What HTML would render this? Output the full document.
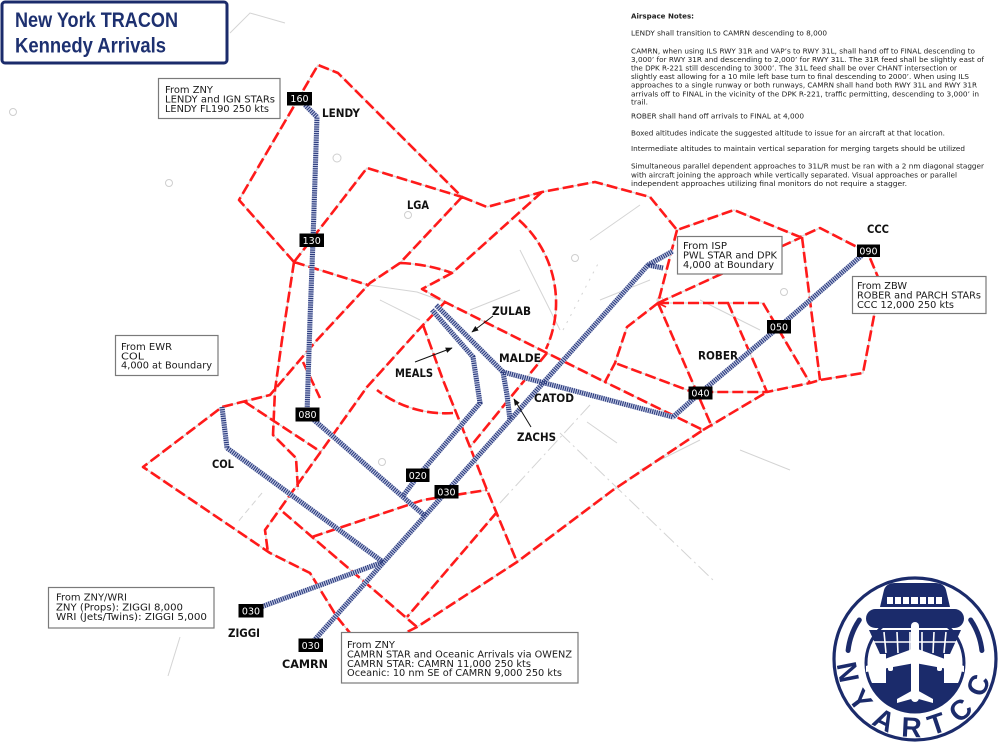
<!DOCTYPE html>
<html><head><meta charset="utf-8"><style>
html,body{margin:0;padding:0;background:#fff;}
svg{display:block;}
.bx{fill:#fff;stroke:#7a7a7a;stroke-width:1.2;}
.bt{font-family:"DejaVu Sans","Liberation Sans",sans-serif;font-size:10px;fill:#1a1a1a;}
.nt{font-family:"DejaVu Sans","Liberation Sans",sans-serif;font-size:7px;fill:#222;}
.lb{font-family:"DejaVu Sans","Liberation Sans",sans-serif;font-size:11.5px;font-weight:bold;fill:#111;}
.al{font-family:"DejaVu Sans","Liberation Sans",sans-serif;font-size:9.5px;fill:#fff;text-anchor:middle;}
</style></head><body>
<svg width="1000" height="751" viewBox="0 0 1000 751" xmlns="http://www.w3.org/2000/svg">
<defs>
<path id="red" d="M294,262 L239,200 L318,65 L338,73 L462,197
M294,262 L367,168 L462,197
M462,197 L487,207 L542,192 L595,182 L650,197 L677,230 L734,210 L800,237 L820,228 L857,247 L870,258 L880,282 L874,316 L863,373 L820,380 L810,383 L767,392 L713,392 L690,391 L615,363
M677,230 L658,303 L627,327 L615,363 L605,382 L703,430 L613,490 L517,562 L417,627 L405,633
M658,303 L763,303 L810,383
M728,303 L767,392
M658,303 L712,427
M802,237 L820,380
M658,303 L802,237
M703,430 L767,392
M462,197 L400,263 L370,283 L317,340 L270,395 L222,407 L143,467 L270,553 L310,573 L337,617 L350,633
M294,262 L368,285
M294,262 L282,340 L275,390 L273,435 L296,458 L298,490
M445,302 L423,325 L367,387 L265,530 L268,553
M245,402 L321,452
M303,362 L320,398
M542,192 L452,273 L422,289 L445,302 L547,353 L605,382
M400,263 Q427,264 452,273
M519,220 A111,111 0 0 1 546,349
M453,413 A111,111 0 0 1 377,390
M423,325 L443,380 L470,447 L487,490 L517,562
M547,353 L510,398 L470,447
M283,512 L417,627
M312,537 L423,500 L487,490
M497,512 L407,617"/>
<path id="blue" d="M305,105 L317,117 L313,240 L310,320 L307,414 L425,516
M432,310 L473,357 L480,403 L418,476 L403,496
M222,407 L227,448 L383,562
M250,611 L383,562
M663,268 L648,265 L673,251
M648,265 L310,645
M503,372 L507,395 L510,420
M868,250 L779,327 L700,393 L673,417 L503,372 L436,305"/>
<marker id="ah" viewBox="0 0 10 10" refX="9" refY="5" markerWidth="7" markerHeight="7" orient="auto"><path d="M0,1 L10,5 L0,9 Z" fill="#111"/></marker>
<clipPath id="inner"><circle cx="915" cy="663" r="49"/></clipPath>
<path id="lp" d="M837,659 A78,78 0 0 0 993,659"/>
</defs>

<rect width="1000" height="751" fill="#fff"/>

<!-- light grey background map -->
<g fill="none" stroke="#d4d4d4" stroke-width="1">
<path d="M230,33 L250,13 L285,23"/>
<path d="M368,285 L417,292 L445,302"/>
<path d="M180,637 L168,676"/>
<path d="M560,433 L713,580" stroke-dasharray="14 4 2 4"/>
<path d="M587,422 L617,443"/>
<path d="M590,405 L500,503" stroke-dasharray="14 4 2 4"/>
<path d="M590,240 L640,205"/>
<path d="M563,330 L600,260" stroke-dasharray="2 6"/>
<path d="M600,300 L650,280"/>
<path d="M520,250 L560,330"/>
<path d="M700,300 L760,330"/>
<path d="M262,493 L237,523" stroke-dasharray="6 4"/>
<path d="M470,310 L520,290"/>
<path d="M640,470 L700,440"/>
<path d="M740,450 L790,470"/>
<path d="M380,300 L420,320"/>
</g>
<g fill="none" stroke="#cfcfcf" stroke-width="1">
<circle cx="13" cy="112" r="3.5"/><circle cx="169" cy="183" r="3.5"/><circle cx="408" cy="215" r="3.5"/>
<circle cx="575" cy="258" r="3.5"/><circle cx="337" cy="158" r="4"/><circle cx="382" cy="462" r="3.5"/>
<circle cx="660" cy="300" r="3"/><circle cx="784" cy="292" r="3.5"/>
</g>

<!-- red sector boundaries -->
<use href="#red" fill="none" stroke="#d8d8d8" stroke-width="1.3"/>
<use href="#red" fill="none" stroke="#ff1a1a" stroke-width="2.6" stroke-dasharray="11 4" stroke-linejoin="round"/>
<path d="M666,299 L658,303 L666,307" fill="none" stroke="#ff1a1a" stroke-width="1.8"/>

<!-- blue routes -->
<use href="#blue" fill="none" stroke="#c3cae4" stroke-width="5.2" stroke-linejoin="round"/>
<use href="#blue" fill="none" stroke="#2a3a7c" stroke-width="5" stroke-dasharray="1.1 1.1"/>

<!-- pointer arrows -->
<g stroke="#111" stroke-width="1" fill="none">
<path d="M493,316 L472,332" marker-end="url(#ah)"/>
<path d="M415,362 L452,348" marker-end="url(#ah)"/>
<path d="M531,427 L514,399" marker-end="url(#ah)"/>
</g>

<!-- title -->
<rect x="2" y="2" width="225" height="61" rx="3" fill="#fff" stroke="#1b2b6b" stroke-width="3"/>
<text x="15" y="27" font-family="Liberation Sans, sans-serif" font-weight="bold" font-size="21" fill="#1d3070" textLength="163" lengthAdjust="spacingAndGlyphs">New York TRACON</text>
<text x="15" y="52.5" font-family="Liberation Sans, sans-serif" font-weight="bold" font-size="21" fill="#1d3070" textLength="151" lengthAdjust="spacingAndGlyphs">Kennedy Arrivals</text>

<!-- notes -->
<g class="nt">
<text x="631" y="18.3" font-weight="bold" textLength="63" lengthAdjust="spacingAndGlyphs">Airspace Notes:</text>
<text x="631" y="35.6" textLength="196" lengthAdjust="spacingAndGlyphs">LENDY shall transition to CAMRN descending to 8,000</text>
<text x="631" y="53.3" textLength="344" lengthAdjust="spacingAndGlyphs">CAMRN, when using ILS RWY 31R and VAP’s to RWY 31L, shall hand off to FINAL descending to</text>
<text x="631" y="61.9" textLength="353" lengthAdjust="spacingAndGlyphs">3,000’ for RWY 31R and descending to 2,000’ for RWY 31L. The 31R feed shall be slightly east of</text>
<text x="631" y="70.5" textLength="326" lengthAdjust="spacingAndGlyphs">the DPK R-221 still descending to 3000’. The 31L feed shall be over CHANT intersection or</text>
<text x="631" y="79.1" textLength="338" lengthAdjust="spacingAndGlyphs">slightly east allowing for a 10 mile left base turn to final descending to 2000’. When using ILS</text>
<text x="631" y="87.7" textLength="346" lengthAdjust="spacingAndGlyphs">approaches to a single runway or both runways, CAMRN shall hand both RWY 31L and RWY 31R</text>
<text x="631" y="96.3" textLength="348" lengthAdjust="spacingAndGlyphs">arrivals off to FINAL in the vicinity of the DPK R-221, traffic permitting, descending to 3,000’ in</text>
<text x="631" y="104.3" textLength="17" lengthAdjust="spacingAndGlyphs">trail.</text>
<text x="631" y="118.6" textLength="173" lengthAdjust="spacingAndGlyphs">ROBER shall hand off arrivals to FINAL at 4,000</text>
<text x="631" y="135.3" textLength="314" lengthAdjust="spacingAndGlyphs">Boxed altitudes indicate the suggested altitude to issue for an aircraft at that location.</text>
<text x="631" y="150.9" textLength="334" lengthAdjust="spacingAndGlyphs">Intermediate altitudes to maintain vertical separation for merging targets should be utilized</text>
<text x="631" y="168.6" textLength="353" lengthAdjust="spacingAndGlyphs">Simultaneous parallel dependent approaches to 31L/R must be ran with a 2 nm diagonal stagger</text>
<text x="631" y="177.4" textLength="326" lengthAdjust="spacingAndGlyphs">with aircraft joining the approach while vertically separated.  Visual approaches or parallel</text>
<text x="631" y="185.9" textLength="276" lengthAdjust="spacingAndGlyphs">independent approaches utilizing final monitors do not require a stagger.</text>
</g>

<!-- info boxes -->
<rect class="bx" x="158.5" y="78.5" width="121.5" height="40"/>
<g class="bt">
<text x="165" y="93" textLength="48" lengthAdjust="spacingAndGlyphs">From ZNY</text>
<text x="165" y="102.5" textLength="110" lengthAdjust="spacingAndGlyphs">LENDY and IGN STARs</text>
<text x="165" y="112" textLength="104" lengthAdjust="spacingAndGlyphs">LENDY FL190 250 kts</text>
</g>
<rect class="bx" x="115.5" y="335.5" width="102.5" height="40"/>
<g class="bt">
<text x="121" y="350" textLength="51" lengthAdjust="spacingAndGlyphs">From EWR</text>
<text x="121" y="359.3" textLength="23" lengthAdjust="spacingAndGlyphs">COL</text>
<text x="121" y="368.5" textLength="91" lengthAdjust="spacingAndGlyphs">4,000 at Boundary</text>
</g>
<rect class="bx" x="677.5" y="236.5" width="104.5" height="37.5"/>
<g class="bt">
<text x="683" y="249" textLength="44" lengthAdjust="spacingAndGlyphs">From ISP</text>
<text x="683" y="258.5" textLength="94" lengthAdjust="spacingAndGlyphs">PWL STAR and DPK</text>
<text x="683" y="268" textLength="91" lengthAdjust="spacingAndGlyphs">4,000 at Boundary</text>
</g>
<rect class="bx" x="852.5" y="276.5" width="133.5" height="37"/>
<g class="bt">
<text x="857" y="289" textLength="50" lengthAdjust="spacingAndGlyphs">From ZBW</text>
<text x="857" y="298.5" textLength="124" lengthAdjust="spacingAndGlyphs">ROBER and PARCH STARs</text>
<text x="857" y="308" textLength="97" lengthAdjust="spacingAndGlyphs">CCC 12,000 250 kts</text>
</g>
<rect class="bx" x="48.5" y="587.5" width="165.5" height="40.5"/>
<g class="bt">
<text x="56" y="600.5" textLength="71" lengthAdjust="spacingAndGlyphs">From ZNY/WRI</text>
<text x="56" y="610.5" textLength="127" lengthAdjust="spacingAndGlyphs">ZNY (Props): ZIGGI 8,000</text>
<text x="56" y="620" textLength="151" lengthAdjust="spacingAndGlyphs">WRI (Jets/Twins): ZIGGI 5,000</text>
</g>
<rect class="bx" x="341.5" y="632.5" width="236.5" height="50.5"/>
<g class="bt">
<text x="347" y="648" textLength="48" lengthAdjust="spacingAndGlyphs">From ZNY</text>
<text x="347" y="657.5" textLength="225" lengthAdjust="spacingAndGlyphs">CAMRN STAR and Oceanic Arrivals via OWENZ</text>
<text x="347" y="666.8" textLength="184" lengthAdjust="spacingAndGlyphs">CAMRN STAR: CAMRN 11,000 250 kts</text>
<text x="347" y="676" textLength="215" lengthAdjust="spacingAndGlyphs">Oceanic: 10 nm SE of CAMRN 9,000 250 kts</text>
</g>

<!-- altitude boxes -->
<g fill="#000">
<rect x="287" y="92" width="25" height="13.5"/>
<rect x="299.5" y="233.5" width="24.5" height="13.5"/>
<rect x="295.5" y="407.5" width="24" height="14"/>
<rect x="406" y="468.5" width="23.5" height="13.5"/>
<rect x="434.5" y="485" width="24" height="13.5"/>
<rect x="688.5" y="386.5" width="24" height="13"/>
<rect x="767" y="320" width="24" height="13.5"/>
<rect x="857" y="244.5" width="23" height="12.5"/>
<rect x="238.5" y="604" width="25" height="13.5"/>
<rect x="298.5" y="638.5" width="24.5" height="13.5"/>
</g>
<g class="al">
<text x="299.5" y="102.2">160</text>
<text x="311.7" y="243.8">130</text>
<text x="307.5" y="418">080</text>
<text x="417.8" y="478.8">020</text>
<text x="446.5" y="495.3">030</text>
<text x="700.5" y="396.6">040</text>
<text x="779" y="330.3">050</text>
<text x="868.5" y="254.3">090</text>
<text x="251" y="614.3">030</text>
<text x="310.7" y="648.8">030</text>
</g>

<!-- fix labels -->
<g class="lb">
<text x="322" y="117" textLength="38" lengthAdjust="spacingAndGlyphs">LENDY</text>
<text x="407" y="209" textLength="22" lengthAdjust="spacingAndGlyphs">LGA</text>
<text x="492" y="315" textLength="39" lengthAdjust="spacingAndGlyphs">ZULAB</text>
<text x="395" y="377" textLength="38" lengthAdjust="spacingAndGlyphs">MEALS</text>
<text x="499" y="362" textLength="42" lengthAdjust="spacingAndGlyphs">MALDE</text>
<text x="534" y="402" textLength="40" lengthAdjust="spacingAndGlyphs">CATOD</text>
<text x="517" y="441" textLength="39" lengthAdjust="spacingAndGlyphs">ZACHS</text>
<text x="698" y="359.5" textLength="40" lengthAdjust="spacingAndGlyphs">ROBER</text>
<text x="867" y="233" textLength="22" lengthAdjust="spacingAndGlyphs">CCC</text>
<text x="212" y="468" textLength="22" lengthAdjust="spacingAndGlyphs">COL</text>
<text x="228" y="637" textLength="32" lengthAdjust="spacingAndGlyphs">ZIGGI</text>
<text x="282" y="668" textLength="46" lengthAdjust="spacingAndGlyphs">CAMRN</text>
</g>

<!-- NYARTCC logo -->
<g>
<circle cx="915" cy="659" r="81" fill="#fff" stroke="#1b2b6b" stroke-width="3.2"/>
<path d="M859.3,620 A68,68 0 0 0 848.1,650.5" fill="none" stroke="#1b2b6b" stroke-width="5" stroke-linecap="round"/>
<path d="M970.7,620 A68,68 0 0 1 981.9,650.5" fill="none" stroke="#1b2b6b" stroke-width="5" stroke-linecap="round"/>
<g font-family="Liberation Sans, sans-serif" font-weight="bold" font-size="28" fill="#1b2b6b" text-anchor="middle">
<text><textPath href="#lp" startOffset="15">N</textPath></text>
<text><textPath href="#lp" startOffset="50.4">Y</textPath></text>
<text><textPath href="#lp" startOffset="85.8">A</textPath></text>
<text><textPath href="#lp" startOffset="118.4">R</textPath></text>
<text><textPath href="#lp" startOffset="147.6">T</textPath></text>
<text><textPath href="#lp" startOffset="178.9">C</textPath></text>
<text><textPath href="#lp" startOffset="214">C</textPath></text>
</g>
<circle cx="915" cy="663" r="49" fill="none" stroke="#1b2b6b" stroke-width="3"/>
<g clip-path="url(#inner)" fill="#1b2b6b">
<rect x="886" y="648" width="58" height="70"/>
<rect x="860" y="683" width="110" height="40"/>
</g>
<path d="M880,607 L884,590 Q886,583 895,583 L935,583 Q944,583 946,590 L950,607 Z" fill="#1b2b6b"/>
<g fill="#fff">
<rect x="887" y="597" width="6" height="7"/><rect x="895" y="597" width="6" height="7"/><rect x="903" y="597" width="6" height="7"/>
<rect x="911" y="597" width="7" height="7"/><rect x="920" y="597" width="6" height="7"/><rect x="928" y="597" width="6" height="7"/><rect x="936" y="597" width="6" height="7"/>
</g>
<rect x="866" y="609" width="98" height="19" rx="9.5" fill="#1b2b6b"/>
<path d="M869,630 L961,630 L950,654 L880,654 Z" fill="#1b2b6b"/>
<g stroke="#fff" stroke-width="1.6">
<path d="M874,642 L956,642"/>
<path d="M884,632 L886,653 M897,632 L898,653 M910,632 L910,653 M922,632 L922,653 M934,632 L933,653 M946,632 L944,653"/>
</g>
<g fill="#fff">
<rect x="911" y="622" width="8" height="80" rx="4"/>
<path d="M915,648 L866,666 L866,672 L915,663 L964,672 L964,666 Z"/>
<rect x="888" y="662" width="5" height="9" rx="2"/><rect x="937" y="662" width="5" height="9" rx="2"/>
<path d="M915,689 L897,699 L897,703 L915,698 L933,703 L933,699 Z"/>
</g>
</g>
</svg>
</body></html>
